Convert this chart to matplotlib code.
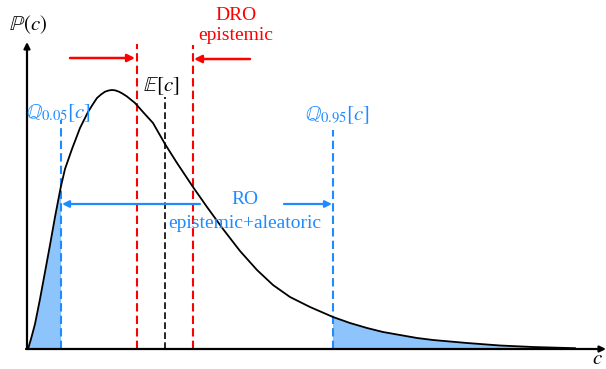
import matplotlib
matplotlib.use("Agg")
import matplotlib.pyplot as plt
import numpy as np

plt.rcParams["font.family"] = ["Liberation Serif", "DejaVu Serif"]
plt.rcParams["mathtext.fontset"] = "stix"

RED = "#ff0000"
BLUE = "#1e8cff"
FILL = "#8ec4fc"

# density curve (units: pixels from the axis origin)
c_vals = np.array([1, 4, 8, 13, 18, 23, 28, 33, 34, 38, 45, 53, 61, 66, 70, 74, 78,
                   82, 85, 88, 92, 95, 100, 108, 116, 126, 138, 150, 158, 166, 180,
                   196, 213, 230, 246, 263, 283, 306, 323, 340, 356, 373, 390, 406,
                   440, 473, 506, 548])
p_vals = np.array([0, 10, 25, 50, 77, 104, 132, 158, 163, 180, 200, 221, 237, 245,
                   251, 254.5, 257.3, 258.6, 259, 258.7, 257.3, 255.7, 252.5, 246,
                   237, 226, 205, 186, 174, 162, 142, 120, 98, 79, 64, 52, 42, 32,
                   26, 21, 17, 14, 11, 9, 6, 3.5, 2, 0.8])

q05 = 34
q95 = 306
mean_c = 138
dro_lo = 110
dro_hi = 166

fig = plt.figure(figsize=(6.06, 3.69), dpi=100)
ax = fig.add_axes([0, 0, 1, 1])
ax.set_xlim(-27, 579)
ax.set_ylim(-20, 349)
ax.axis("off")

# axes with arrow heads
arrow_axis = dict(arrowstyle="-|>", lw=1.6, color="black", mutation_scale=9, shrinkA=0, shrinkB=0)
ax.annotate("", xy=(0, 307), xytext=(0, 0), arrowprops=arrow_axis)
ax.annotate("", xy=(579, 0), xytext=(-1, 0), arrowprops=arrow_axis)
ax.text(1, 324, r"$\mathbb{P}(c)$", ha="center", va="center", fontsize=15)
ax.text(565, -10, r"$c$", ha="left", va="center", fontsize=15)

# shaded tails
tail = (c_vals <= q05) | (c_vals >= q95)
ax.fill_between(c_vals, 0, p_vals, where=tail, color=FILL, lw=0, zorder=1)
ax.plot(c_vals, p_vals, color="black", lw=1.3, zorder=3, solid_joinstyle="round")

# vertical markers
ax.plot([dro_lo, dro_lo], [0, 305], color=RED, lw=1.5, dashes=(4, 2), zorder=2)
ax.plot([dro_hi, dro_hi], [0, 304], color=RED, lw=1.5, dashes=(4, 2), zorder=2)
ax.plot([mean_c, mean_c], [0, 252], color="black", lw=1.2, dashes=(4, 2), zorder=2)
ax.plot([q05, q05], [0, 229], color=BLUE, lw=1.5, dashes=(4, 2), zorder=2)
ax.plot([q95, q95], [0, 219], color=BLUE, lw=1.5, dashes=(4, 2), zorder=2)

# arrows
red_arrow = dict(arrowstyle="-|>", lw=1.8, color=RED, mutation_scale=11, shrinkA=0, shrinkB=0)
blue_arrow = dict(arrowstyle="-|>", lw=1.6, color=BLUE, mutation_scale=10, shrinkA=0, shrinkB=0)
ax.annotate("", xy=(dro_lo - 2, 291), xytext=(43, 291), arrowprops=red_arrow)
ax.annotate("", xy=(dro_hi + 1, 290), xytext=(223, 290), arrowprops=red_arrow)
ax.annotate("", xy=(q05 + 1, 145), xytext=(173, 145), arrowprops=blue_arrow)
ax.annotate("", xy=(q95 - 1, 145), xytext=(257, 145), arrowprops=blue_arrow)

# labels
ax.text(209, 334, "DRO", color=RED, ha="center", va="center", fontsize=14)
ax.text(209, 313, "epistemic", color=RED, ha="center", va="center", fontsize=14)
ax.text(134, 263, r"$\mathbb{E}[c]$", ha="center", va="center", fontsize=15)
ax.text(-1, 236, r"$\mathbb{Q}_{0.05}[c]$", color=BLUE, ha="left", va="center", fontsize=15)
ax.text(278, 234, r"$\mathbb{Q}_{0.95}[c]$", color=BLUE, ha="left", va="center", fontsize=15)
ax.text(218, 150, "RO", color=BLUE, ha="center", va="center", fontsize=14)
ax.text(218, 126, "epistemic+aleatoric", color=BLUE, ha="center", va="center", fontsize=14)

fig.savefig("out.png", dpi=100)
